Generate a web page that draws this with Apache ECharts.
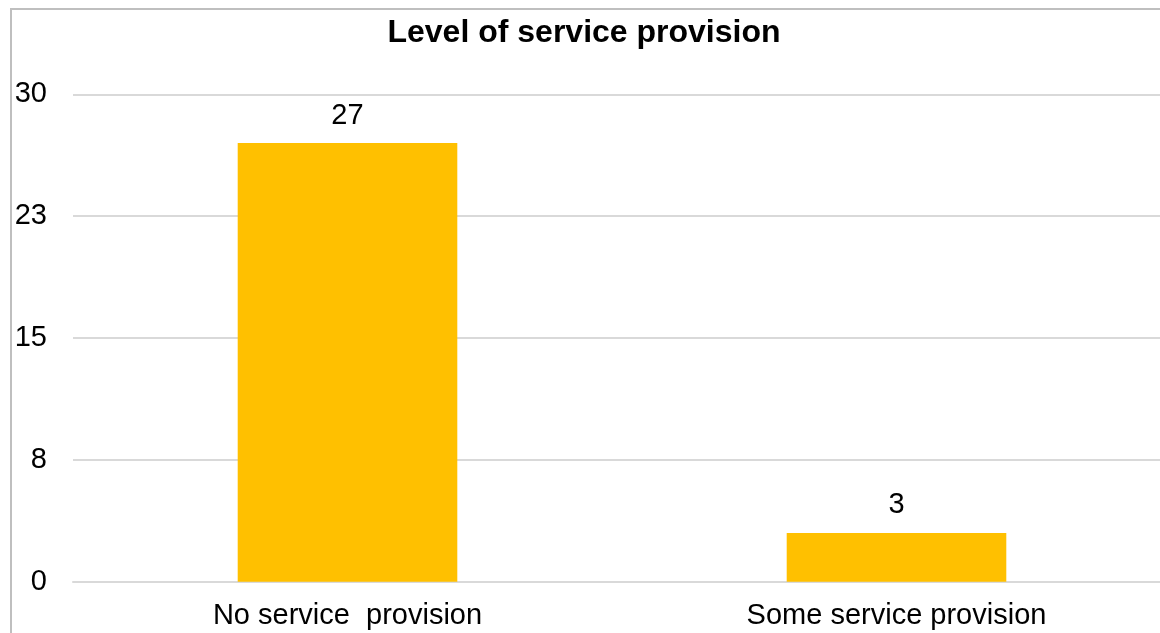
<!DOCTYPE html>
<html>
<head>
<meta charset="utf-8">
<script src="https://cdn.jsdelivr.net/npm/echarts@6/dist/echarts.min.js"></script>
<style>
html,body{margin:0;padding:0;background:#fff;overflow:hidden;}
#c{width:1172px;height:633px;}
</style>
</head>
<body>
<div id="c"></div>
<script>
const titleText = 'Level of service provision';
const categories = ['No service  provision', 'Some service provision'];
const values = [27, 3];
const yMax = 30;
const yInterval = 7.5;
const yTickLabels = ['0', '8', '15', '23', '30'];

const chart = echarts.init(document.getElementById('c'), null, {renderer: 'canvas'});
const font = 'Liberation Sans, Arial, sans-serif';
chart.setOption({
  animation: false,
  backgroundColor: '#ffffff',
  graphic: [
    {type: 'rect', shape: {x: 11, y: 9, width: 1300, height: 800},
     style: {fill: 'none', stroke: '#bfbfbf', lineWidth: 2}, z: 100, silent: true},
    {type: 'text', x: 584, y: 33,
     style: {text: titleText, font: 'bold 32px ' + font, fill: '#000',
             textAlign: 'center', textVerticalAlign: 'middle'}, z: 100}
  ],
  grid: {left: 73, top: 94.3, right: 1, height: 487.4, containLabel: false},
  xAxis: {
    type: 'category', data: categories,
    axisLine: {show: true, lineStyle: {color: '#d9d9d9', width: 2}},
    axisTick: {show: false},
    axisLabel: {color: '#000', fontSize: 29, fontFamily: font, margin: 20, interval: 0}
  },
  yAxis: {
    type: 'value', min: 0, max: yMax, interval: yInterval,
    axisLine: {show: false}, axisTick: {show: false},
    splitLine: {lineStyle: {color: '#d9d9d9', width: 2}},
    axisLabel: {color: '#000', fontSize: 29, fontFamily: font, margin: 26,
      padding: [4, 0, 0, 0],
      formatter: function (v) { return yTickLabels[Math.round(v / yInterval)]; }}
  },
  series: [{
    type: 'bar', data: values, barWidth: '40%',
    itemStyle: {color: '#FFC000'},
    label: {show: true, position: 'top', distance: 13, color: '#000', fontSize: 29, fontFamily: font}
  }]
});
</script>
</body>
</html>
